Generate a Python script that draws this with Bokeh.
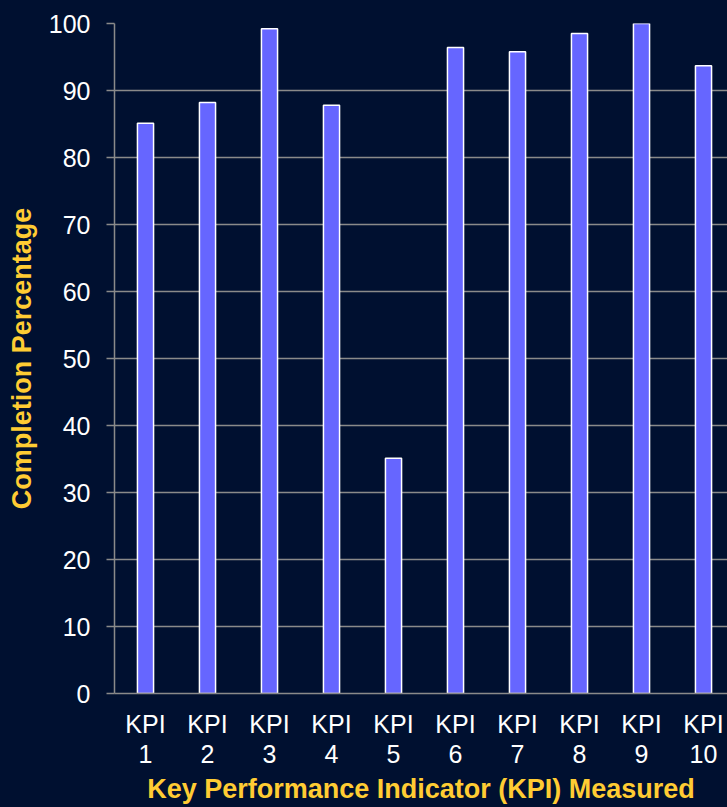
from bokeh.plotting import figure
from bokeh.models import Range1d, FixedTicker
from bokeh.embed import file_html
from bokeh.resources import INLINE

categories = ["KPI 1", "KPI 2", "KPI 3", "KPI 4", "KPI 5", "KPI 6", "KPI 7", "KPI 8", "KPI 9", "KPI 10"]
tick_labels = ["KPI\n1", "KPI\n2", "KPI\n3", "KPI\n4", "KPI\n5", "KPI\n6", "KPI\n7", "KPI\n8", "KPI\n9", "KPI\n10"]
completion = [85.1, 88.2, 99.2, 87.8, 35.1, 96.4, 95.8, 98.5, 100.0, 93.7]
y_ticks = [0, 10, 20, 30, 40, 50, 60, 70, 80, 90, 100]

positions = list(range(1, len(categories) + 1))

BG = "#001030"
GRID = "#8a8a8a"
YELLOW = "#ffcc33"
FONT = "Liberation Sans"

p = figure(width=727, height=807, output_backend="svg", toolbar_location=None,
           x_range=Range1d(0.5, 10.387), y_range=Range1d(0, 100),
           background_fill_color=BG, border_fill_color=BG,
           min_border_left=114, min_border_right=0, min_border_top=23, min_border_bottom=114)
p.outline_line_color = None

p.vbar(x=positions, top=completion, width=0.26, fill_color="#6666ff",
       line_color="white", line_width=1.5)

p.xaxis.ticker = FixedTicker(ticks=positions)
p.xaxis.major_label_overrides = {pos: lab for pos, lab in zip(positions, tick_labels)}
p.yaxis.ticker = FixedTicker(ticks=y_ticks)

for ax in (p.xaxis, p.yaxis):
    ax.axis_line_color = GRID
    ax.axis_line_width = 1.5
    ax.major_label_text_color = "white"
    ax.major_label_text_font = FONT
    ax.major_label_text_font_size = "25px"
    ax.axis_label_text_color = YELLOW
    ax.axis_label_text_font = FONT
    ax.axis_label_text_font_style = "bold"
    ax.axis_label_text_font_size = "27px"
    ax.minor_tick_line_color = None

p.xaxis.axis_label = "Key Performance Indicator (KPI) Measured"
p.yaxis.axis_label = "Completion Percentage"
p.xaxis.major_tick_line_color = None
p.xaxis.major_tick_out = 0
p.xaxis.major_label_text_line_height = 1.1
p.xaxis.major_label_standoff = 16
p.xaxis.axis_label_standoff = 3
p.yaxis.major_tick_line_color = GRID
p.yaxis.major_tick_line_width = 1.5
p.yaxis.major_tick_out = 8
p.yaxis.major_tick_in = 0
p.yaxis.major_label_standoff = 16
p.yaxis.axis_label_standoff = 9

p.xgrid.grid_line_color = None
p.ygrid.grid_line_color = GRID
p.ygrid.grid_line_width = 1.5

html = file_html(p, INLINE)
html = html.replace("<body>", '<body style="background-color:#001030;">')
open("out.html", "w").write(html)
